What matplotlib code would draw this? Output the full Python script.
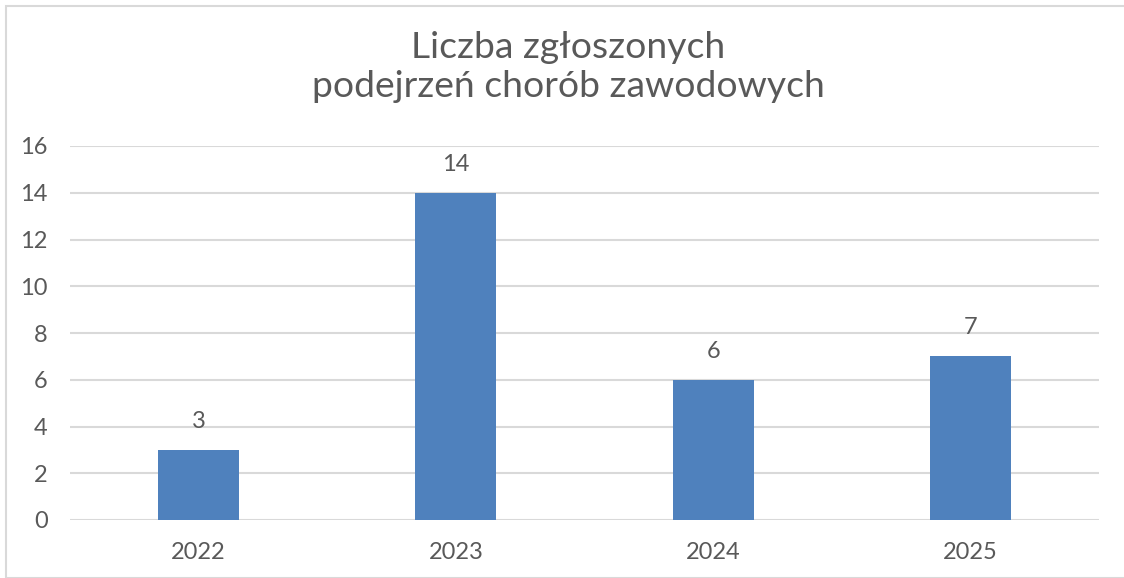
"""Bar chart: number of reported suspected occupational diseases per year."""

import matplotlib

matplotlib.use("Agg")
import matplotlib.pyplot as plt  # noqa: E402
from matplotlib.patches import Rectangle  # noqa: E402

years = ["2022", "2023", "2024", "2025"]
counts = [3, 14, 6, 7]
y_ticks = [0, 2, 4, 6, 8, 10, 12, 14, 16]
title = "Liczba zgłoszonych\npodejrzeń chorób zawodowych"

TEXT = "#595959"
GRID = "#d9d9d9"
BAR = "#4f81bd"

plt.rcParams["font.family"] = ["Lato", "DejaVu Sans"]

W, H = 1124, 578
fig = plt.figure(figsize=(W / 100, H / 100), dpi=100)

# chart frame (clipped on right and bottom in the reference)
fig.patches.append(
    Rectangle((6.5 / W, 0), 2, 1 - 5.5 / H, transform=fig.transFigure,
              fill=False, edgecolor=GRID, linewidth=1.5)
)

ax = fig.add_axes([70 / W, 1 - 520 / H, (1099 - 70) / W, (520 - 146) / H])
x = range(len(years))
bars = ax.bar(x, counts, width=0.315, color=BAR, zorder=3)
for rect, v in zip(bars, counts):
    ax.annotate(str(v), (rect.get_x() + rect.get_width() / 2, v),
                xytext=(0, 13), textcoords="offset points",
                ha="center", va="bottom", fontsize=17, color=TEXT)

ax.set_xlim(-0.5, len(years) - 0.5)
ax.set_ylim(0, 16)
ax.set_yticks(y_ticks)
ax.set_xticks(list(x))
ax.set_xticklabels(years)
ax.tick_params(axis="both", length=0, labelsize=17, labelcolor=TEXT)
ax.tick_params(axis="y", pad=16)
ax.tick_params(axis="x", pad=16)
ax.yaxis.grid(True, color=GRID, linewidth=1.5, zorder=0)
for s in ax.spines.values():
    s.set_visible(False)

fig.text((313 + 823) / 2 / W, 1 - 67 / H, title, ha="center", va="center",
         fontsize=26.8, color=TEXT, linespacing=1.2)

fig.savefig("out.png", dpi=100)
